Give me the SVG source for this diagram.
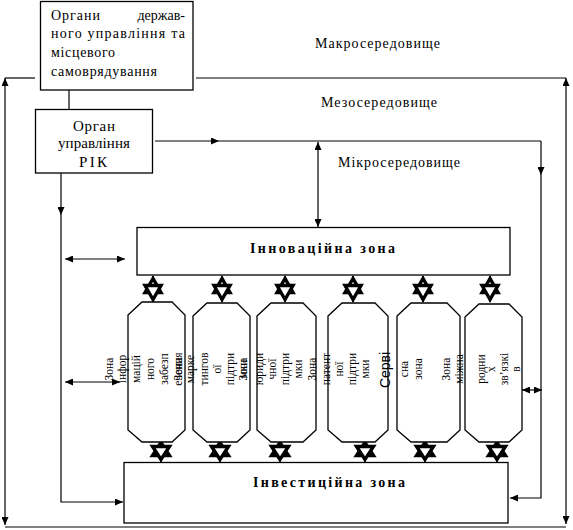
<svg xmlns="http://www.w3.org/2000/svg" width="573" height="530" viewBox="0 0 573 530">
<style>
.ln{fill:none;stroke:#000;stroke-width:1.2}
.bx{fill:#fff;stroke:#000;stroke-width:1.3}
.t{font-family:"Liberation Serif","Times New Roman",serif;fill:#000}
.lb{font-size:14px}
.bd{font-size:14px;font-weight:bold}
.v{font-size:11.5px;text-anchor:middle}
.st{fill:#fff;stroke:#000;stroke-width:3.4;stroke-linejoin:miter}
</style>
<defs>
<marker id="ah" markerUnits="userSpaceOnUse" markerWidth="8" markerHeight="7" refX="8" refY="3.5" orient="auto-start-reverse">
<path d="M0,0 L8,3.5 L0,7 Z" fill="#000"/>
</marker>
<g id="starU">
<line x1="0" y1="-13" x2="0" y2="13" stroke="#000" stroke-width="1.5"/>
<path class="st" d="M0,-10.5 L-8,3.5 L8,3.5 Z"/>
<path class="st" d="M0,10.5 L-8,-3.5 L8,-3.5 Z"/>
</g>
<g id="starD">
<line x1="0" y1="-11" x2="0" y2="11" stroke="#000" stroke-width="1.5"/>
<path class="st" d="M0,-8.5 L-8.5,4.5 L8.5,4.5 Z"/>
<path class="st" d="M0,8.5 L-8.5,-4.5 L8.5,-4.5 Z"/>
</g>
</defs>

<g id="connectors">
<line class="ln" x1="5" y1="300" x2="5" y2="78" marker-end="url(#ah)"/>
<line class="ln" x1="5" y1="300" x2="5" y2="525" marker-end="url(#ah)"/>
<line class="ln" x1="5" y1="78" x2="35" y2="78"/>
<line class="ln" x1="196" y1="78" x2="566" y2="78"/>
<line class="ln" x1="566" y1="300" x2="566" y2="78" marker-end="url(#ah)"/>
<line class="ln" x1="566" y1="300" x2="566" y2="524" marker-end="url(#ah)"/>
<line class="ln" x1="5" y1="527" x2="566" y2="527"/>
<line class="ln" x1="69" y1="90" x2="69" y2="109"/>
<line class="ln" x1="155" y1="141" x2="219" y2="141" marker-end="url(#ah)"/>
<line class="ln" x1="219" y1="141" x2="541" y2="141"/>
<line class="ln" x1="541" y1="141" x2="541" y2="175" marker-end="url(#ah)"/>
<polyline class="ln" points="541,175 541,498 510,498" marker-end="url(#ah)"/>
<line class="ln" x1="318" y1="142" x2="318" y2="227" marker-start="url(#ah)" marker-end="url(#ah)"/>
<line class="ln" x1="61" y1="173" x2="61" y2="215" marker-end="url(#ah)"/>
<polyline class="ln" points="61,215 61,502 123,502" marker-end="url(#ah)"/>
<line class="ln" x1="65" y1="259" x2="125" y2="259" marker-start="url(#ah)" marker-end="url(#ah)"/>
<line class="ln" x1="65" y1="382" x2="120" y2="382" marker-start="url(#ah)" marker-end="url(#ah)"/>
<line class="ln" x1="522" y1="390" x2="542" y2="390" marker-start="url(#ah)" marker-end="url(#ah)"/>
<use href="#starU" x="153" y="289"/>
<use href="#starU" x="222" y="289"/>
<use href="#starU" x="285" y="289"/>
<use href="#starU" x="353" y="289"/>
<use href="#starU" x="423" y="289"/>
<use href="#starU" x="490" y="289"/>
<use href="#starD" x="161" y="451"/>
<use href="#starD" x="220" y="451"/>
<use href="#starD" x="280" y="451"/>
<use href="#starD" x="365" y="451"/>
<use href="#starD" x="425" y="451"/>
<use href="#starD" x="497" y="451"/>
</g>

<g id="labels">
<text class="t lb" x="315" y="48" textLength="125" lengthAdjust="spacing">Макросередовище</text>
<text class="t lb" x="321" y="107" textLength="116" lengthAdjust="spacing">Мезосередовище</text>
<text class="t lb" x="338" y="167" textLength="122" lengthAdjust="spacing">Мікросередовище</text>
</g>

<g id="gov">
<rect class="bx" x="40.5" y="1.5" width="152.5" height="88.5"/>
<text class="t lb" x="51" y="20" textLength="49" lengthAdjust="spacing">Органи</text>
<text class="t lb" x="185" y="20" text-anchor="end">держав-</text>
<text class="t lb" x="51" y="38" textLength="134" lengthAdjust="spacing">ного управління та</text>
<text class="t lb" x="51" y="57" textLength="64" lengthAdjust="spacing">місцевого</text>
<text class="t lb" x="51" y="76" textLength="106" lengthAdjust="spacing">самоврядування</text>
</g>

<g id="rik">
<rect class="bx" x="35.5" y="109.5" width="117" height="63.5"/>
<text class="t" style="font-size:15px" x="73" y="131" textLength="42" lengthAdjust="spacing">Орган</text>
<text class="t" style="font-size:15px" x="58" y="148" textLength="72" lengthAdjust="spacing">управління</text>
<text class="t" style="font-size:15px" x="79" y="167" textLength="28" lengthAdjust="spacing">РІК</text>
</g>

<g id="innovation">
<rect class="bx" x="137" y="227.5" width="373" height="47.5"/>
<text class="t bd" x="250" y="253" textLength="145" lengthAdjust="spacing">Інноваційна зона</text>
</g>

<g id="investment">
<rect class="bx" x="124" y="462.5" width="384" height="60.5"/>
<text class="t bd" x="253" y="487" textLength="152" lengthAdjust="spacing">Інвестиційна зона</text>
</g>

<g id="zone-info">
<path class="bx" d="M128,315 L142,302 L172,302 L185,315 L185,430 L172,442 L142,442 L128,430 Z"/>
</g>
<g id="zone-marketing">
<path class="bx" d="M193,316 L207,303 L237,303 L250,316 L250,430 L237,442 L207,442 L193,430 Z"/>
</g>
<g id="zone-legal">
<path class="bx" d="M257,316 L271,303 L303,303 L316,316 L316,430 L303,442 L271,442 L257,430 Z"/>
</g>
<g id="zone-patent">
<path class="bx" d="M328,316 L342,303 L375,303 L388,316 L388,430 L375,442 L342,442 L328,430 Z"/>
</g>
<g id="zone-service">
<path class="bx" d="M397,316 L411,303 L447,303 L460,316 L460,430 L447,442 L411,442 L397,430 Z"/>
</g>
<g id="zone-intl">
<path class="bx" d="M465,317 L479,304 L509,304 L522,317 L522,430 L509,442 L479,442 L465,430 Z"/>
</g>

<g id="zone-texts">
<text class="t v" transform="translate(113,369) rotate(-90)">Зона</text>
<text class="t v" transform="translate(126,369) rotate(-90)">інфор</text>
<text class="t v" transform="translate(140,369) rotate(-90)">мацій</text>
<text class="t v" transform="translate(154,369) rotate(-90)">ного</text>
<text class="t v" transform="translate(168,369) rotate(-90)">забезп</text>
<text class="t v" transform="translate(182,369) rotate(-90)">ечення</text>

<text class="t v" transform="translate(182,369) rotate(-90)">Зона</text>
<text class="t v" transform="translate(194,369) rotate(-90)">марке</text>
<text class="t v" transform="translate(208,369) rotate(-90)">тингов</text>
<text class="t v" transform="translate(221,369) rotate(-90)">ої</text>
<text class="t v" transform="translate(234,369) rotate(-90)">підтри</text>
<text class="t v" transform="translate(247,369) rotate(-90)">мки</text>

<text class="t v" transform="translate(247,369) rotate(-90)">Зона</text>
<text class="t v" transform="translate(263,369) rotate(-90)">юриди</text>
<text class="t v" transform="translate(276,369) rotate(-90)">чної</text>
<text class="t v" transform="translate(289,369) rotate(-90)">підтри</text>
<text class="t v" transform="translate(302,369) rotate(-90)">мки</text>

<text class="t v" transform="translate(316,369) rotate(-90)">Зона</text>
<text class="t v" transform="translate(330,369) rotate(-90)">патент</text>
<text class="t v" transform="translate(343,369) rotate(-90)">ної</text>
<text class="t v" transform="translate(356,369) rotate(-90)">підтри</text>
<text class="t v" transform="translate(369,369) rotate(-90)">мки</text>

<text class="t" style="font-family:'Liberation Sans',Arial,sans-serif;font-size:14px;text-anchor:middle" transform="translate(390,370) rotate(-90)">Серві</text>
<text class="t v" transform="translate(408,369) rotate(-90)">сна</text>
<text class="t v" transform="translate(422,369) rotate(-90)">зона</text>

<text class="t v" transform="translate(450,369) rotate(-90)">Зона</text>
<text class="t v" transform="translate(463,369) rotate(-90)">міжна</text>
<text class="t v" transform="translate(485,369) rotate(-90)">родни</text>
<text class="t v" transform="translate(495,369) rotate(-90)">х</text>
<text class="t v" transform="translate(508,369) rotate(-90)">зв’язкі</text>
<text class="t v" transform="translate(520,369) rotate(-90)">в</text>
</g>
</svg>
